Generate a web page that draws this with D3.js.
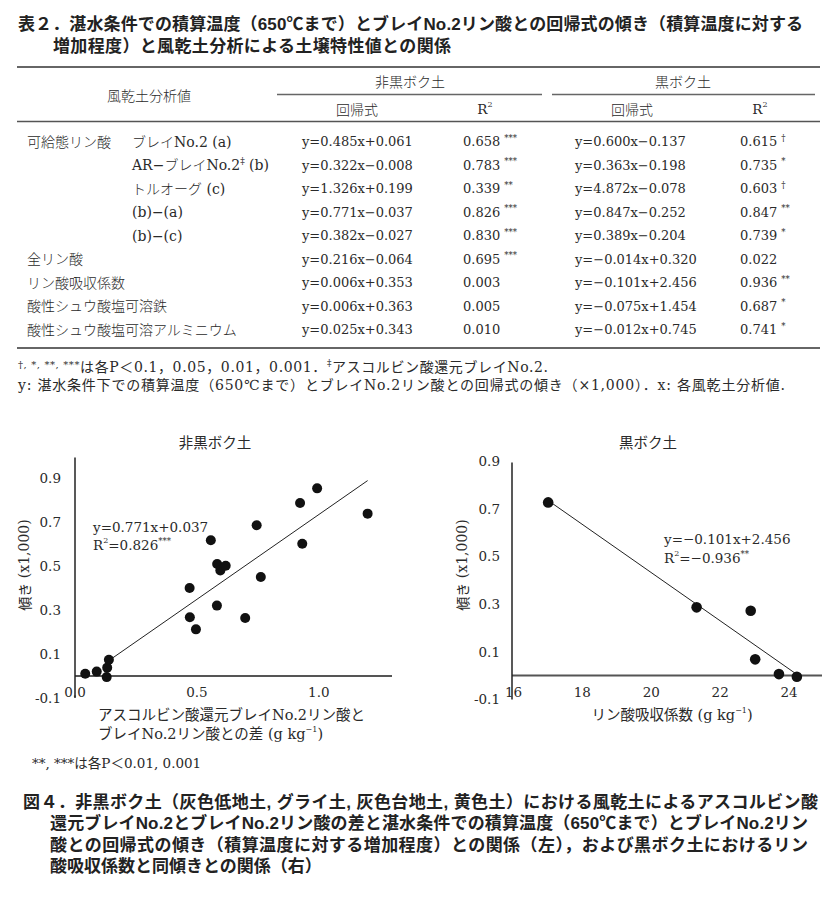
<!DOCTYPE html>
<html><head><meta charset="utf-8">
<script src="https://cdn.jsdelivr.net/npm/d3@7"></script>
<style>body{margin:0;background:#fff}svg{display:block}</style>
</head><body>
<script>
// ---------------- DATA ----------------
const tableTitle = ["表２．湛水条件での積算温度（650℃まで）とブレイNo.2リン酸との回帰式の傾き（積算温度に対する",
                    "増加程度）と風乾土分析による土壌特性値との関係"];
const groupHeaders = ["非黒ボク土", "黒ボク土"];
const rowHeader = "風乾土分析値";
const subHeaders = ["回帰式", "R", "回帰式", "R"];
const rowLabel1 = ["可給態リン酸", "", "", "", "", "全リン酸", "リン酸吸収係数", "酸性シュウ酸塩可溶鉄", "酸性シュウ酸塩可溶アルミニウム"];
const rowLabel2 = ["ブレイNo.2 (a)", "AR−ブレイNo.2‡ (b)", "トルオーグ (c)", "(b)−(a)", "(b)−(c)", "", "", "", ""];
const nonAndoEq = ["y=0.485x+0.061", "y=0.322x−0.008", "y=1.326x+0.199", "y=0.771x−0.037", "y=0.382x−0.027",
                   "y=0.216x−0.064", "y=0.006x+0.353", "y=0.006x+0.363", "y=0.025x+0.343"];
const nonAndoR2 = ["0.658", "0.783", "0.339", "0.826", "0.830", "0.695", "0.003", "0.005", "0.010"];
const nonAndoSig = ["***", "***", "**", "***", "***", "***", "", "", ""];
const andoEq = ["y=0.600x−0.137", "y=0.363x−0.198", "y=4.872x−0.078", "y=0.847x−0.252", "y=0.389x−0.204",
                "y=−0.014x+0.320", "y=−0.101x+2.456", "y=−0.075x+1.454", "y=−0.012x+0.745"];
const andoR2 = ["0.615", "0.735", "0.603", "0.847", "0.739", "0.022", "0.936", "0.687", "0.741"];
const andoSig = ["†", "*", "†", "**", "*", "", "**", "*", "*"];
const tableNote1 = ["†, *, **, ***", "は各P＜0.1，0.05，0.01，0.001．", "‡", "アスコルビン酸還元ブレイNo.2."];
const tableNote2 = "y: 湛水条件下での積算温度（650℃まで）とブレイNo.2リン酸との回帰式の傾き（×1,000）．x: 各風乾土分析値.";

// left scatter (非黒ボク土)
const leftTitle = "非黒ボク土";
const leftX = [0.042, 0.089, 0.130, 0.132, 0.139, 0.470, 0.471, 0.496, 0.557, 0.582, 0.583, 0.596, 0.618, 0.698, 0.745, 0.762, 0.923, 0.932, 0.993, 1.200];
const leftY = [0.010, 0.020, -0.005, 0.038, 0.074, 0.400, 0.267, 0.212, 0.617, 0.320, 0.509, 0.480, 0.501, 0.264, 0.685, 0.450, 0.786, 0.601, 0.853, 0.738];
const leftFit = [0.771, -0.037];      // slope, intercept of drawn line
const leftFitRange = [0.14, 1.20];
const leftXTicks = [0.0, 0.5, 1.0];
const leftYTicks = [0.9, 0.7, 0.5, 0.3, 0.1, -0.1];
const leftEqText = "y=0.771x+0.037";
const leftR2Text = ["R", "2", "=0.826", "***"];
const leftXLabel = ["アスコルビン酸還元ブレイNo.2リン酸と", "ブレイNo.2リン酸との差 (g kg", "−1", ")"];
const leftNote = "**, ***は各P＜0.01, 0.001";

// right scatter (黒ボク土)
const rightTitle = "黒ボク土";
const rightX = [17.05, 21.36, 22.93, 23.06, 23.75, 24.27];
const rightY = [0.726, 0.286, 0.272, 0.068, 0.006, -0.005];
const rightFit = [-0.101, 2.456];
const rightFitRange = [17.05, 24.27];
const rightXTicks = [16, 18, 20, 22, 24];
const rightYTicks = [0.9, 0.7, 0.5, 0.3, 0.1, -0.1];
const rightEqText = "y=−0.101x+2.456";
const rightR2Text = ["R", "2", "=−0.936", "**"];
const rightXLabel = ["リン酸吸収係数 (g kg", "−1", ")"];
const yLabel = ["傾き", " (x1,000)"];

const caption = ["図４．非黒ボク土（灰色低地土, グライ土, 灰色台地土, 黄色土）における風乾土によるアスコルビン酸",
                 "還元ブレイNo.2とブレイNo.2リン酸の差と湛水条件での積算温度（650℃まで）とブレイNo.2リン",
                 "酸との回帰式の傾き（積算温度に対する増加程度）との関係（左），および黒ボク土におけるリン",
                 "酸吸収係数と同傾きとの関係（右）"];

// ---------------- STYLE ----------------
const BOLD = '"Liberation Sans", "Noto Sans CJK JP", sans-serif';
const JP = '"Noto Sans CJK JP", sans-serif';
const MIX = '"DejaVu Serif", "Noto Sans CJK JP", serif';
const INK = "#2a2a2a";

const svg = d3.select("body").append("svg").attr("width", 839).attr("height", 904);
svg.append("rect").attr("width", 839).attr("height", 904).attr("fill", "#fff");

function txt(g, x, y, s, o = {}) {
  const t = g.append("text").attr("x", x).attr("y", y).text(s)
    .attr("font-family", o.font || MIX).attr("font-size", o.size || 13.5)
    .attr("font-weight", o.weight || 400).attr("fill", o.fill || INK)
    .attr("text-anchor", o.anchor || "start").attr("dominant-baseline", "central");
  if (o.len) t.attr("textLength", o.len).attr("lengthAdjust", "spacing");
  return t;
}
function sup(t, s, size, dy) {
  return t.append("tspan").attr("font-size", size).attr("dy", -dy).text(s);
}
function line(g, x1, y1, x2, y2, w, c) {
  g.append("line").attr("x1", x1).attr("y1", y1).attr("x2", x2).attr("y2", y2)
    .attr("stroke", c || "#555").attr("stroke-width", w || 1);
}

// ---------------- TABLE ----------------
const T = svg.append("g");
txt(T, 18, 24, tableTitle[0], {font: BOLD, size: 17, weight: 700, fill: "#222", len: 785});
txt(T, 53, 46, tableTitle[1], {font: BOLD, size: 17, weight: 700, fill: "#222", len: 398});

line(T, 17, 67, 820, 67, 1.8, "#666");
line(T, 277, 94.5, 542, 94.5, 1.3, "#666");
line(T, 552, 94.5, 815, 94.5, 1.3, "#666");
line(T, 17, 121.5, 820, 121.5, 1.3, "#555");
line(T, 17, 348, 820, 348, 1.8, "#666");

txt(T, 410, 81, groupHeaders[0], {font: JP, size: 14, anchor: "middle", weight: 300});
txt(T, 683, 81, groupHeaders[1], {font: JP, size: 14, anchor: "middle", weight: 300});
txt(T, 149, 95, rowHeader, {font: JP, size: 14, anchor: "middle", weight: 300});
const subX = [357, 485, 632, 760];
subHeaders.forEach((s, i) => {
  const t = txt(T, subX[i], 109, s, {size: i % 2 ? 13.5 : 14, anchor: "middle", font: i % 2 ? MIX : JP, weight: i % 2 ? 400 : 300});
  if (i % 2) sup(t, "2", 8, 5);
});

const rowY = d3.range(rowLabel1.length).map(i => 141.7 + i * 23.5);
rowLabel1.forEach((s, i) => { if (s) txt(T, 27, rowY[i], s, {size: 14, weight: 300}); });
rowLabel2.forEach((s, i) => {
  if (!s) return;
  const parts = s.split("‡");
  const t = txt(T, 132, rowY[i], parts[0], {size: 14, weight: 300});
  if (parts.length > 1) { sup(t, "‡", 9, 4); t.append("tspan").attr("dy", 4).text(parts[1]); }
});
nonAndoEq.forEach((s, i) => txt(T, 302, rowY[i], s, {size: 13}));
nonAndoR2.forEach((s, i) => {
  const t = txt(T, 463, rowY[i], s + (nonAndoSig[i] ? " " : ""), {size: 13});
  if (nonAndoSig[i]) sup(t, nonAndoSig[i], 8.5, 4);
});
andoEq.forEach((s, i) => txt(T, 575, rowY[i], s, {size: 13}));
andoR2.forEach((s, i) => {
  const t = txt(T, 740, rowY[i], s + (andoSig[i] ? " " : ""), {size: 13});
  if (andoSig[i]) sup(t, andoSig[i], 8.5, 4);
});

{
  const t = txt(T, 18, 366.5, tableNote1[0], {size: 10, len: 530});
  t.attr("dy", -2);
  t.append("tspan").attr("font-size", 14).attr("dy", 2).text(tableNote1[1]);
  t.append("tspan").attr("font-size", 9).attr("dy", -4).text(tableNote1[2]);
  t.append("tspan").attr("font-size", 14).attr("dy", 4).text(tableNote1[3]);
  txt(T, 18, 385, tableNote2, {size: 14, len: 767});
}

// ---------------- SCATTER helper ----------------
function scatter(cfg) {
  const g = svg.append("g");
  const x = d3.scaleLinear().domain(cfg.xd).range(cfg.xr);
  const y = d3.scaleLinear().domain(cfg.yd).range(cfg.yr);
  line(g, x(cfg.xd[0]), y(0), cfg.xr[1], y(0), 2, "#555");
  line(g, cfg.yAxisX, y(cfg.yd[0]), cfg.yAxisX, cfg.yTop, 1.5, "#222");
  cfg.yTicks.forEach(v => txt(g, cfg.yAxisX - cfg.yPad, y(v), v.toFixed(1), {size: 13.5, anchor: "end"}));
  cfg.xTicks.forEach(v => txt(g, x(v) + (cfg.xShift || 0), y(0) + 16, cfg.xFmt(v), {size: 13.5, anchor: "middle"}));
  const [a, b] = cfg.fit;
  g.append("line").attr("x1", x(cfg.fitRange[0])).attr("y1", y(a * cfg.fitRange[0] + b))
    .attr("x2", x(cfg.fitRange[1])).attr("y2", y(a * cfg.fitRange[1] + b))
    .attr("stroke", "#222").attr("stroke-width", 1);
  g.selectAll("circle").data(cfg.xs.map((v, i) => [v, cfg.ys[i]])).join("circle")
    .attr("cx", d => x(d[0])).attr("cy", d => y(d[1])).attr("r", cfg.r).attr("fill", "#111");
  txt(g, cfg.titleX, 441.5, cfg.title, {font: JP, size: 14.5, anchor: "middle"});
  const yl = g.append("text").attr("transform", `translate(${cfg.yLabX},565) rotate(-90)`)
    .attr("text-anchor", "middle").attr("dominant-baseline", "central")
    .attr("font-family", MIX).attr("font-size", 14).attr("fill", INK);
  yl.append("tspan").attr("font-family", JP).text(yLabel[0]);
  yl.append("tspan").text(yLabel[1]);
  txt(g, cfg.eqX, cfg.eqY, cfg.eq, {size: 13.5});
  const r2 = txt(g, cfg.eqX, cfg.eqY + 18.5, cfg.r2t[0], {size: 13.5});
  r2.append("tspan").attr("font-size", 8).attr("dy", -5).text(cfg.r2t[1]);
  r2.append("tspan").attr("dy", 5).text(cfg.r2t[2]);
  r2.append("tspan").attr("font-size", 8.5).attr("dy", -4).text(cfg.r2t[3]);
  return g;
}

const L = scatter({
  xd: [0, 1.3], xr: [75, 392], yd: [-0.1, 1.0], yr: [698, 456], yAxisX: 75, yTop: 457.5, yPad: 14,
  yTicks: leftYTicks, xTicks: leftXTicks, xFmt: v => v.toFixed(1),
  fit: leftFit, fitRange: leftFitRange, xs: leftX, ys: leftY, r: 5,
  title: leftTitle, titleX: 215, yLabX: 24,
  eq: leftEqText, eqX: 93, eqY: 526.5, r2t: leftR2Text
});
{
  txt(L, 98, 715, leftXLabel[0], {size: 14.5});
  const t2 = txt(L, 98, 733.5, leftXLabel[1], {size: 14.5});
  t2.append("tspan").attr("font-size", 8).attr("dy", -5).text(leftXLabel[2]);
  t2.append("tspan").attr("dy", 5).text(leftXLabel[3]);
  txt(L, 32, 763, leftNote, {size: 13.5});
}

const R = scatter({
  xd: [16, 25], xr: [512, 822], yd: [-0.1, 0.9], yr: [699.4, 460.9], yAxisX: 512, yTop: 462.5, yPad: 12,
  yTicks: rightYTicks, xTicks: rightXTicks, xFmt: v => String(v), xShift: 1.5,
  fit: rightFit, fitRange: rightFitRange, xs: rightX, ys: rightY, r: 5.3,
  title: rightTitle, titleX: 648, yLabX: 462,
  eq: rightEqText, eqX: 664, eqY: 539, r2t: rightR2Text
});
{
  const t = txt(R, 672, 715, rightXLabel[0], {size: 14.5, anchor: "middle"});
  t.append("tspan").attr("font-size", 8).attr("dy", -5).text(rightXLabel[1]);
  t.append("tspan").attr("dy", 5).text(rightXLabel[2]);
}

// ---------------- CAPTION ----------------
const capY = [802, 823.5, 845, 866.5];
const capX = [23, 50, 50, 50];
const capLen = [795, 758, 758, null];
caption.forEach((s, i) => txt(svg, capX[i], capY[i], s, {font: BOLD, size: 17, weight: 700, fill: "#222", len: capLen[i]}));
</script>
</body></html>
